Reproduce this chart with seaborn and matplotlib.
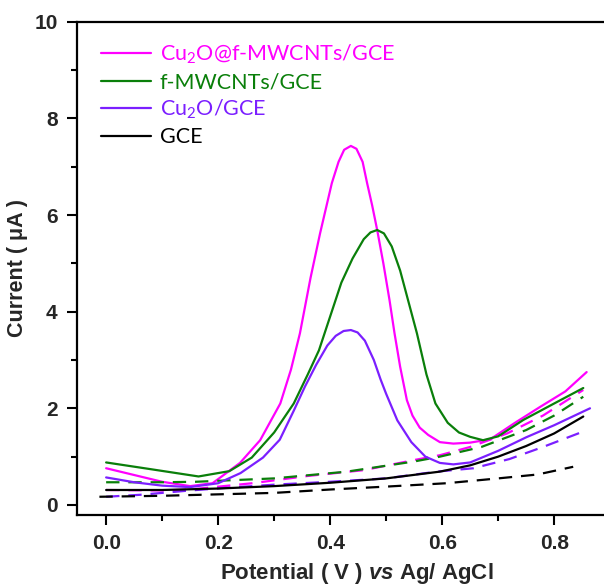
import pandas as pd
import seaborn as sns
import matplotlib.pyplot as plt
from matplotlib.lines import Line2D
from matplotlib.ticker import MultipleLocator

# Series (potential in V, current in uA)
names = ['Cu$_\\mathregular{2}$O@f-MWCNTs/GCE', 'f-MWCNTs/GCE', 'Cu$_\\mathregular{2}$O/GCE', 'GCE']
colors = ['#FF00FF', '#0A7F0A', '#7B1FFF', '#000000']

# solid curves
mag_x = [0.0, 0.05, 0.10, 0.15, 0.19, 0.239, 0.275, 0.311, 0.33, 0.346, 0.365, 0.382, 0.403, 0.415,
         0.425, 0.437, 0.447, 0.458, 0.466, 0.475, 0.484, 0.495, 0.506, 0.515, 0.525, 0.537, 0.547,
         0.56, 0.575, 0.596, 0.62, 0.65, 0.686, 0.73, 0.775, 0.82, 0.858]
mag_y = [0.76, 0.62, 0.48, 0.39, 0.45, 0.87, 1.34, 2.1, 2.8, 3.55, 4.7, 5.62, 6.66, 7.1,
         7.35, 7.43, 7.37, 7.1, 6.66, 6.2, 5.69, 5.0, 4.24, 3.55, 2.86, 2.17, 1.85,
         1.6, 1.45, 1.3, 1.27, 1.29, 1.36, 1.7, 2.03, 2.35, 2.75]

grn_x = [0.0, 0.08, 0.165, 0.22, 0.26, 0.30, 0.335, 0.36, 0.38, 0.40, 0.42, 0.44, 0.46, 0.472,
         0.484, 0.496, 0.51, 0.525, 0.54, 0.555, 0.572, 0.588, 0.61, 0.63, 0.65, 0.673, 0.70,
         0.745, 0.80, 0.852]
grn_y = [0.88, 0.74, 0.59, 0.70, 0.98, 1.5, 2.1, 2.7, 3.2, 3.9, 4.6, 5.1, 5.5, 5.64,
         5.69, 5.62, 5.35, 4.85, 4.2, 3.55, 2.7, 2.1, 1.7, 1.5, 1.41, 1.34, 1.42,
         1.76, 2.1, 2.42]

pur_x = [0.0, 0.05, 0.10, 0.15, 0.20, 0.24, 0.28, 0.31, 0.335, 0.355, 0.375, 0.395, 0.41, 0.424,
         0.437, 0.449, 0.462, 0.478, 0.49, 0.50, 0.52, 0.545, 0.57, 0.596, 0.62, 0.65, 0.70,
         0.75, 0.80, 0.864]
pur_y = [0.57, 0.47, 0.40, 0.37, 0.45, 0.66, 0.98, 1.35, 1.95, 2.45, 2.9, 3.3, 3.5, 3.6,
         3.62, 3.57, 3.4, 3.0, 2.6, 2.3, 1.75, 1.3, 1.0, 0.87, 0.84, 0.88, 1.12,
         1.4, 1.65, 2.0]

blk_x = [0.0, 0.10, 0.20, 0.30, 0.40, 0.50, 0.596, 0.65, 0.70, 0.75, 0.80, 0.852]
blk_y = [0.31, 0.31, 0.34, 0.39, 0.46, 0.55, 0.69, 0.82, 1.0, 1.22, 1.48, 1.83]

# dashed (blank) curves
mag_bx = [0.0, 0.10, 0.15, 0.261, 0.36, 0.46, 0.55, 0.596, 0.65, 0.716, 0.78, 0.852]
mag_by = [0.31, 0.30, 0.32, 0.45, 0.60, 0.72, 0.93, 1.03, 1.2, 1.48, 1.85, 2.38]

grn_bx = [0.0, 0.10, 0.16, 0.30, 0.43, 0.55, 0.596, 0.67, 0.75, 0.80, 0.852]
grn_by = [0.47, 0.47, 0.48, 0.55, 0.69, 0.9, 1.0, 1.2, 1.55, 1.85, 2.24]

pur_bx = [0.0, 0.06, 0.15, 0.209, 0.30, 0.40, 0.50, 0.59, 0.656, 0.72, 0.78, 0.852]
pur_by = [0.17, 0.21, 0.30, 0.35, 0.42, 0.48, 0.55, 0.69, 0.76, 0.95, 1.2, 1.52]

blk_bx = [-0.012, 0.10, 0.20, 0.30, 0.40, 0.50, 0.608, 0.70, 0.77, 0.834]
blk_by = [0.17, 0.19, 0.22, 0.25, 0.32, 0.38, 0.45, 0.55, 0.63, 0.79]

series = [
    (names[0], 'solid', mag_x, mag_y), (names[1], 'solid', grn_x, grn_y),
    (names[2], 'solid', pur_x, pur_y), (names[3], 'solid', blk_x, blk_y),
    (names[0], 'blank', mag_bx, mag_by), (names[1], 'blank', grn_bx, grn_by),
    (names[2], 'blank', pur_bx, pur_by), (names[3], 'blank', blk_bx, blk_by),
]
df = pd.concat([pd.DataFrame({'Potential': x, 'Current': y, 'Electrode': n, 'Scan': s})
                for n, s, x, y in series], ignore_index=True)

sns.set_theme(style='ticks')
plt.rcParams['font.family'] = ['Liberation Sans', 'DejaVu Sans']
plt.rcParams['font.weight'] = 'bold'
plt.rcParams['axes.labelweight'] = 'bold'
plt.rcParams['mathtext.fontset'] = 'custom'
plt.rcParams['mathtext.it'] = 'Liberation Sans:italic:bold'
plt.rcParams['mathtext.rm'] = 'Lato'

fig = plt.figure(figsize=(6.04, 5.87), dpi=100)
ax = fig.add_axes([0.1275, 0.1227, 0.8725, 0.8403])

sns.lineplot(data=df, x='Potential', y='Current', hue='Electrode', style='Scan',
             palette=dict(zip(names, colors)), hue_order=names,
             dashes={'solid': '', 'blank': (6, 4)}, style_order=['solid', 'blank'],
             sort=False, estimator=None, linewidth=1.6, legend=False, ax=ax)
for ln in ax.lines:
    ln.set_solid_joinstyle('round')

ax.set_xlim(-0.052, 0.889)
ax.set_ylim(-0.207, 10)
ax.xaxis.set_major_locator(MultipleLocator(0.2))
ax.xaxis.set_minor_locator(MultipleLocator(0.1))
ax.yaxis.set_major_locator(MultipleLocator(2))
ax.yaxis.set_minor_locator(MultipleLocator(1))
ax.tick_params(which='major', direction='out', length=7, width=1.5, labelsize=15, pad=7, color='black')
ax.tick_params(which='minor', direction='out', length=4, width=1.5, color='black')
ax.tick_params(top=False, right=False, which='both')
for side in ['left', 'bottom', 'top']:
    ax.spines[side].set_linewidth(1.6)
    ax.spines[side].set_color('black')
ax.spines['right'].set_visible(False)

ax.set_xlabel('Potential ( V ) $\\mathit{vs}$ Ag/ AgCl', fontsize=16)
ax.xaxis.set_label_coords(0.531, -0.093)
ax.set_ylabel('Current ( μA )', fontsize=15.5)
ax.yaxis.set_label_coords(-0.093, 0.5)

handles = [Line2D([], [], color=c, lw=1.6) for c in colors]
ax.legend(handles, names, loc='upper left', bbox_to_anchor=(0.03, 0.975), frameon=False,
          prop={'family': 'Lato', 'size': 15.5, 'weight': 'normal'}, labelcolor=colors,
          handlelength=2.3, handletextpad=0.4, labelspacing=0.27, borderaxespad=0)

plt.savefig('out.png', dpi=100)
